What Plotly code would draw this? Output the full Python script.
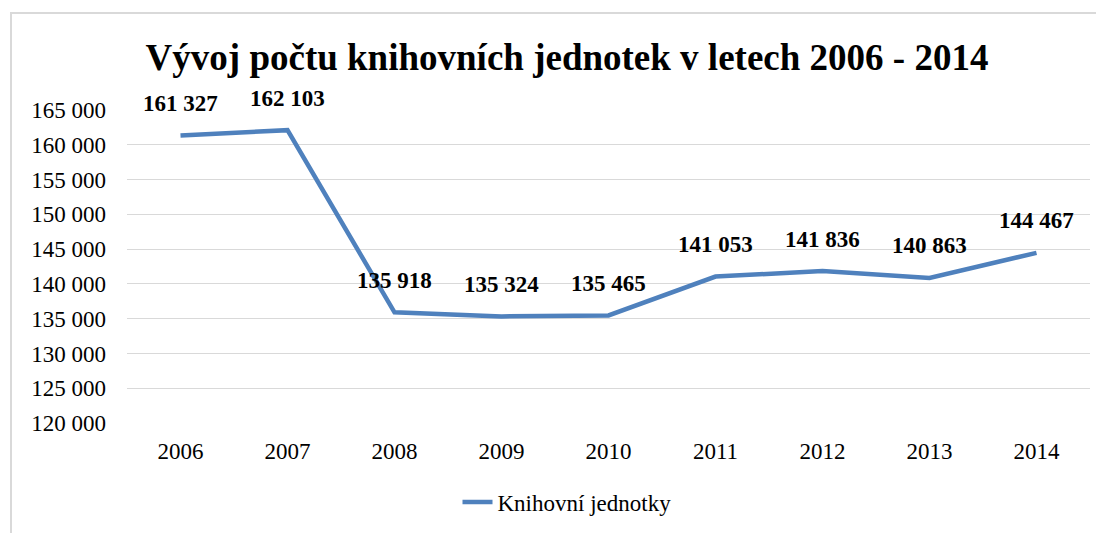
import plotly.graph_objects as go

years = ["2006", "2007", "2008", "2009", "2010", "2011", "2012", "2013", "2014"]
values = [161327, 162103, 135918, 135324, 135465, 141053, 141836, 140863, 144467]
series_name = "Knihovní jednotky"
title_text = "Vývoj počtu knihovních jednotek v letech 2006 - 2014"
y_ticks = list(range(120000, 165001, 5000))

def fmt(v):
    return f"{v:,}".replace(",", " ")

W, H = 1104, 533
OFF = 8  # page body margin offset
FONT = "Liberation Serif, Times New Roman, serif"
COLOR = "#4F81BD"

L, T = 127 - OFF, 110 - OFF
R = W - (1090 - OFF)
B = H - (423 - OFF)
PW, PH = W - L - R, H - T - B

fig = go.Figure()
fig.add_trace(go.Scatter(
    x=years, y=values, mode="lines", name=series_name,
    line=dict(color=COLOR, width=4.5),
))

for i, v in enumerate(values):
    fig.add_annotation(
        x=i, y=v, text=f"<b>{fmt(v)}</b>", showarrow=False,
        yshift=32, font=dict(family=FONT, size=23, color="black"),
        xref="x", yref="y",
    )

fig.update_layout(
    width=W, height=H,
    margin=dict(l=L, r=R, t=T, b=B),
    paper_bgcolor="white", plot_bgcolor="white",
    font=dict(family=FONT, size=23, color="black"),
    title=dict(text=f"<b>{title_text}</b>", x=(567 - OFF) / W, xanchor="center",
               y=1 - (57 - OFF) / H, yanchor="middle", yref="container",
               font=dict(family=FONT, size=37, color="black")),
    showlegend=True,
    legend=dict(orientation="h", x=(567 - OFF - L) / PW, xanchor="center",
                y=-(502 - 423) / PH, yanchor="middle",
                font=dict(family=FONT, size=23)),
    xaxis=dict(type="category", range=[-0.5, 8.5], showgrid=False,
               showline=False, zeroline=False, ticks="",
               ticklabelstandoff=12, tickfont=dict(family=FONT, size=23)),
    yaxis=dict(range=[120000, 165000], tickvals=y_ticks,
               ticktext=[fmt(t) for t in y_ticks],
               showgrid=True, gridcolor="#d9d9d9", gridwidth=1.3,
               zeroline=False, showline=False, ticks="",
               ticklabelstandoff=20, tickfont=dict(family=FONT, size=23)),
)

# outer chart border
fig.add_shape(type="rect", xref="paper", yref="paper",
              x0=(11 - 127) / PW, x1=1.2,
              y0=-1, y1=1 + (110 - 13) / PH,
              line=dict(color="#d9d9d9", width=2), layer="below")

fig.write_html("out.html")
